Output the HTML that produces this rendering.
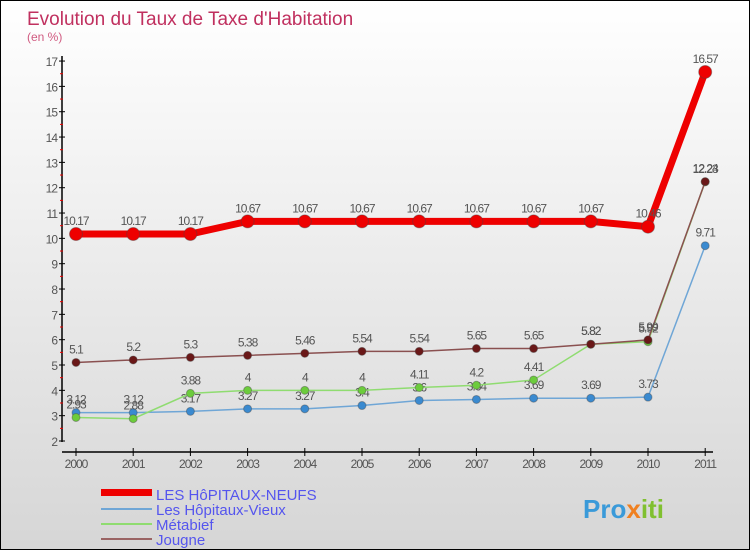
<!DOCTYPE html>
<html><head><meta charset="utf-8"><style>
body{margin:0}
#c{width:748px;height:548px;border:1px solid #000;background:linear-gradient(#fff,#d6d6d6);position:relative;font-family:"Liberation Sans",sans-serif;overflow:hidden}
</style></head><body>
<div id="c">
<svg id="s" width="748" height="548" style="position:absolute;left:0;top:0">
<text x="26" y="24" font-size="19" fill="#c0305f">Evolution du Taux de Taxe d'Habitation</text>
<text x="26" y="40" font-size="12" fill="#d05a80">(en %)</text>
<g id="axes"></g><g id="series"></g>
<g>
<rect x="100" y="488" width="51" height="7" fill="#e00"/>
<text x="155" y="499" font-size="15" fill="#5555ee">LES HôPITAUX-NEUFS</text>
<line x1="100" y1="508" x2="151" y2="508" stroke="#6fa6d6" stroke-width="2"/>
<text x="155" y="514" font-size="15" fill="#5555ee">Les Hôpitaux-Vieux</text>
<line x1="100" y1="523" x2="151" y2="523" stroke="#8fdc70" stroke-width="2"/>
<text x="155" y="529" font-size="15" fill="#5555ee">Métabief</text>
<line x1="100" y1="538" x2="151" y2="538" stroke="#9a6464" stroke-width="2"/>
<text x="155" y="544" font-size="15" fill="#5555ee">Jougne</text>
</g>
<text x="582" y="517" font-size="26" font-weight="bold" fill="#3a9ad9">Pro<tspan fill="#f08020">x</tspan><tspan fill="#80c030">iti</tspan></text>
</svg>
</div>
<script>
const years=["2000","2001","2002","2003","2004","2005","2006","2007","2008","2009","2010","2011"];
const yTicks=[2,3,4,5,6,7,8,9,10,11,12,13,14,15,16,17];
const neufs=[10.17,10.17,10.17,10.67,10.67,10.67,10.67,10.67,10.67,10.67,10.46,16.57];
const vieux=[3.12,3.12,3.17,3.27,3.27,3.4,3.6,3.64,3.69,3.69,3.73,9.71];
const metabief=[2.93,2.88,3.88,4,4,4,4.11,4.2,4.41,5.82,5.92,12.23];
const jougne=[5.1,5.2,5.3,5.38,5.46,5.54,5.54,5.65,5.65,5.82,5.99,12.24];
const NS="http://www.w3.org/2000/svg";
const X=i=>75+i*57.2;
const Y=v=>440-(v-2)*25.33;
function mk(t,a,p){const e=document.createElementNS(NS,t);for(const k in a)e.setAttribute(k,a[k]);p.appendChild(e);return e;}
const ax=document.getElementById('axes');
let l=mk('line',{x1:61,y1:55,x2:61,y2:441,stroke:'#000','stroke-width':1.5},ax);


l=mk('line',{x1:61,y1:451,x2:712,y2:451,stroke:'#000','stroke-width':1.5},ax);


yTicks.forEach(v=>{
  mk('line',{x1:58,y1:Y(v),x2:64,y2:Y(v),stroke:'#000'},ax);
  if(v<17)mk('line',{x1:59,y1:Y(v+0.5),x2:62,y2:Y(v+0.5),stroke:'#e00'},ax);
  const t=mk('text',{x:56,y:Y(v)+5,'font-size':12,'text-anchor':'end',fill:'#555','letter-spacing':'-1'},ax);
  t.textContent=v;
  
  
});
years.forEach((y,i)=>{
  mk('line',{x1:X(i),y1:447,x2:X(i),y2:455,stroke:'#000'},ax);
  const t=mk('text',{x:X(i),y:467,'font-size':12,'text-anchor':'middle',fill:'#555','letter-spacing':'-1'},ax);
  t.textContent=y;
  
  
});
const sg=document.getElementById('series');
function draw(vals,name,color,dot,lw,r){
  const g=mk('g',{},sg);
  
  
  const p=mk('polyline',{points:vals.map((v,i)=>X(i)+','+Y(v)).join(' '),fill:'none',stroke:color,'stroke-width':lw},g);
  
  
  vals.forEach((v,i)=>{
    const c=mk('circle',{cx:X(i),cy:Y(v),r:r,fill:dot,stroke:'#444','stroke-opacity':0.4},g);
    
    
    const t=mk('text',{x:X(i),y:Y(v)-9,'font-size':12,'text-anchor':'middle',fill:'#555','letter-spacing':'-1'},g);
    t.textContent=v;
    
    
  });
}
draw(vieux,'vieux','#6fa6d6','#3a8ad0',1.5,4);
draw(metabief,'metabief','#8fdc70','#6ccc3c',1.5,4);
draw(jougne,'jougne','#8a5050','#6a1818',1.5,4);
draw(neufs,'neufs','#ee0000','#ee0000',7,6.5);
</script>
</body></html>
